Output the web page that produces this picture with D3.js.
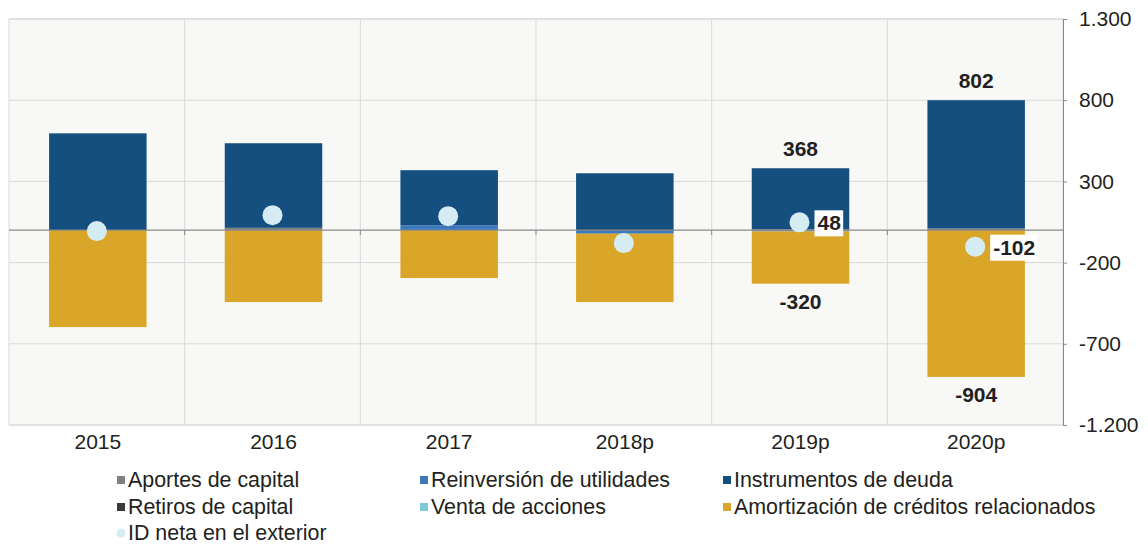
<!DOCTYPE html>
<html>
<head>
<meta charset="utf-8">
<script src="https://cdn.jsdelivr.net/npm/d3@7"></script>
<style>
  body { margin: 0; background: #ffffff; }
  text { font-family: "Liberation Sans", Arial, sans-serif; fill: #231f20; }
</style>
</head>
<body>
<script>
// chart data
var years = ["2015", "2016", "2017", "2018p", "2019p", "2020p"];
var aportes = [0, 14, 0, 0, 6, 10];           // Aportes de capital
var reinversion = [0, 0, 30, -22, -8, 0];      // Reinversión de utilidades
var deuda = [596, 521, 339, 350, 375, 790];    // Instrumentos de deuda
var retiros = [0, 0, 0, 0, 0, 0];              // Retiros de capital
var venta = [0, 0, 0, 0, 0, 0];                // Venta de acciones
var amortizacion = [-597, -443, -295, -421, -322, -904]; // Amortización de créditos relacionados
var idNeta = [-6, 92, 86, -80, 48, -102];      // ID neta en el exterior
var yTicks = [1300, 800, 300, -200, -700, -1200];

// labels shown on the chart for the last two years
var topLabels = [null, null, null, null, "368", "802"];
var bottomLabels = [null, null, null, null, "-320", "-904"];
var dotLabels = [null, null, null, null, "48", "-102"];

var series = [
  {name: "Aportes de capital", values: aportes, color: "#7f7f7f"},
  {name: "Reinversión de utilidades", values: reinversion, color: "#3b78bd"},
  {name: "Instrumentos de deuda", values: deuda, color: "#154f80"},
  {name: "Retiros de capital", values: retiros, color: "#3a3a3c"},
  {name: "Venta de acciones", values: venta, color: "#7ecbd6"},
  {name: "Amortización de créditos relacionados", values: amortizacion, color: "#daa629"}
];
var dotColor = "#d5ecf3";

var width = 1148, height = 545;
var plot = {left: 9, right: 1063, top: 19, bottom: 425};
var fs = 21;

var svg = d3.select("body").append("svg")
  .attr("width", width)
  .attr("height", height);

var x = d3.scaleBand()
  .domain(years)
  .range([plot.left, plot.right])
  .paddingInner(0)
  .paddingOuter(0);

var y = d3.scaleLinear()
  .domain([-1200, 1300])
  .range([plot.bottom, plot.top]);

var locale = d3.formatLocale({decimal: ",", thousands: ".", grouping: [3], currency: ["", ""], minus: "-"});
var fmt = locale.format(",");

//plot background
svg.append("rect")
  .attr("x", plot.left).attr("y", plot.top)
  .attr("width", plot.right - plot.left).attr("height", plot.bottom - plot.top)
  .attr("fill", "#f8f8f6")
  .attr("stroke", "#d9d9d9");

//horizontal gridlines
svg.selectAll(".hgrid")
  .data(yTicks)
  .enter().append("line")
  .attr("x1", plot.left).attr("x2", plot.right)
  .attr("y1", function(d){ return y(d); })
  .attr("y2", function(d){ return y(d); })
  .attr("stroke", "#d9d9d9");

//vertical gridlines between categories
svg.selectAll(".vgrid")
  .data(years.slice(1))
  .enter().append("line")
  .attr("x1", function(d){ return x(d); })
  .attr("x2", function(d){ return x(d); })
  .attr("y1", plot.top).attr("y2", plot.bottom)
  .attr("stroke", "#d9d9d9");

//stack positive and negative parts separately
var barW = x.bandwidth() * 0.555;
var rects = [];
years.forEach(function(yr, i){
  var pos = 0, neg = 0;
  series.forEach(function(s){
    var v = s.values[i];
    if (v === 0) return;
    var y0, y1;
    if (v > 0) { y0 = pos; y1 = pos + v; pos = y1; }
    else { y0 = neg; y1 = neg + v; neg = y1; }
    rects.push({year: yr, y0: y0, y1: y1, color: s.color});
  });
});

svg.selectAll(".bar")
  .data(rects)
  .enter().append("rect")
  .attr("class", "bar")
  .attr("x", function(d){ return x(d.year) + (x.bandwidth() - barW) / 2 + 1; })
  .attr("width", barW)
  .attr("y", function(d){ return y(Math.max(d.y0, d.y1)); })
  .attr("height", function(d){ return Math.abs(y(d.y0) - y(d.y1)); })
  .attr("fill", function(d){ return d.color; });

//zero line
svg.append("line")
  .attr("x1", plot.left).attr("x2", plot.right)
  .attr("y1", y(0)).attr("y2", y(0))
  .attr("stroke", "#8a8a8a").attr("stroke-width", 1.3);

svg.selectAll(".zt")
  .data(years.slice(1))
  .enter().append("line")
  .attr("x1", function(d){ return x(d); })
  .attr("x2", function(d){ return x(d); })
  .attr("y1", y(0)).attr("y2", y(0) + 5)
  .attr("stroke", "#8a8a8a");

//right axis
var yAxis = d3.axisRight(y)
  .tickValues(yTicks)
  .tickSize(4)
  .tickPadding(12)
  .tickFormat(fmt);

var ax = svg.append("g")
  .attr("transform", "translate(" + plot.right + ",0)")
  .call(yAxis);
ax.select(".domain").attr("stroke", "#8a8a8a");
ax.selectAll(".tick line").attr("stroke", "#8a8a8a");
ax.selectAll(".tick text")
  .attr("font-size", fs)
  .attr("fill", "#231f20")
  .style("font-family", "Liberation Sans, Arial, sans-serif");

//x labels
svg.selectAll(".xl")
  .data(years)
  .enter().append("text")
  .attr("x", function(d){ return x(d) + x.bandwidth() / 2 + 1; })
  .attr("y", 449)
  .attr("text-anchor", "middle")
  .attr("font-size", fs)
  .text(function(d){ return d; });

//dots for ID neta
svg.selectAll(".dot")
  .data(idNeta)
  .enter().append("circle")
  .attr("cx", function(d, i){ return x(years[i]) + x.bandwidth() / 2; })
  .attr("cy", function(d){ return y(d); })
  .attr("r", 10)
  .attr("fill", dotColor);

//labels above and below bars
function barTop(i){
  var t = 0;
  series.forEach(function(s){ if (s.values[i] > 0) t += s.values[i]; });
  return t;
}
function barBottom(i){
  var t = 0;
  series.forEach(function(s){ if (s.values[i] < 0) t += s.values[i]; });
  return t;
}

years.forEach(function(yr, i){
  var cx = x(yr) + x.bandwidth() / 2 + 1;
  if (topLabels[i]) {
    svg.append("text")
      .attr("x", cx).attr("y", y(barTop(i)) - 12)
      .attr("text-anchor", "middle")
      .attr("font-size", fs).attr("font-weight", "bold")
      .text(topLabels[i]);
  }
  if (bottomLabels[i]) {
    svg.append("text")
      .attr("x", cx).attr("y", y(barBottom(i)) + 25)
      .attr("text-anchor", "middle")
      .attr("font-size", fs).attr("font-weight", "bold")
      .text(bottomLabels[i]);
  }
  if (dotLabels[i]) {
    var g = svg.append("g");
    var t = g.append("text")
      .attr("x", cx + 17).attr("y", y(idNeta[i]) + 8)
      .attr("font-size", fs).attr("font-weight", "bold")
      .text(dotLabels[i]);
    var bb = t.node().getBBox();
    g.insert("rect", "text")
      .attr("x", bb.x - 3).attr("y", y(idNeta[i]) - 12)
      .attr("width", bb.width + 5).attr("height", 26)
      .attr("fill", "#ffffff");
  }
});

//legend
var legendItems = series.map(function(s){ return {name: s.name, color: s.color, type: "rect"}; });
legendItems.push({name: "ID neta en el exterior", color: dotColor, type: "circle"});

var colX = [117, 420, 723];
var rowY = [480, 507, 533];

legendItems.forEach(function(item, j){
  var lx = colX[j % 3], ly = rowY[Math.floor(j / 3)];
  if (item.type === "rect") {
    svg.append("rect")
      .attr("x", lx).attr("y", ly - 4)
      .attr("width", 8).attr("height", 8)
      .attr("fill", item.color);
  } else {
    svg.append("circle")
      .attr("cx", lx + 4).attr("cy", ly)
      .attr("r", 4.5)
      .attr("fill", item.color);
  }
  svg.append("text")
    .attr("x", lx + 11).attr("y", ly + 7)
    .attr("font-size", 21.4)
    .text(item.name);
});
</script>
</body>
</html>
